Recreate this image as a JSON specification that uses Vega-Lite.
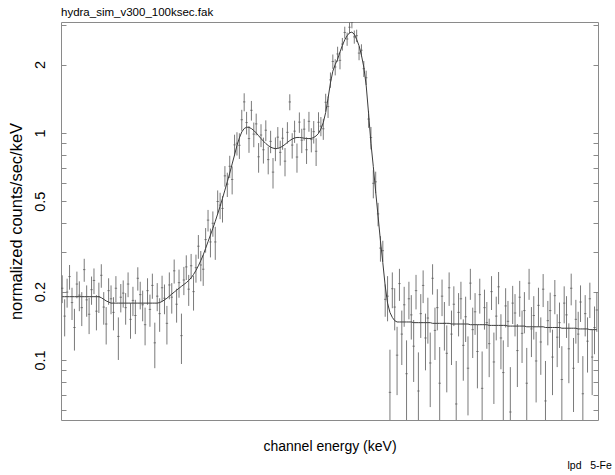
{
  "$schema": "https://vega.github.io/schema/vega-lite/v6.json",
  "width": 537,
  "height": 398,
  "autosize": {"type": "none"},
  "padding": {"left": 61, "top": 22, "right": 17, "bottom": 55},
  "background": "white",
  "title": {
    "text": "hydra_sim_v300_100ksec.fak",
    "anchor": "start",
    "frame": "group",
    "font": "Liberation Sans",
    "fontSize": 11.5,
    "fontWeight": "normal",
    "color": "black",
    "baseline": "alphabetic",
    "offset": -5
  },
  "config": {
    "font": "Liberation Sans",
    "view": {"stroke": "#8a8a8a", "strokeWidth": 1}
  },
  "data": {
    "values": [
      {"e": 6.1907, "c": 0.207, "err": 0.029, "m": 0.19},
      {"e": 6.1921, "c": 0.156, "err": 0.029, "m": 0.19},
      {"e": 6.1935, "c": 0.199, "err": 0.029, "m": 0.19},
      {"e": 6.1949, "c": 0.233, "err": 0.029, "m": 0.19},
      {"e": 6.1963, "c": 0.179, "err": 0.029, "m": 0.19},
      {"e": 6.1977, "c": 0.139, "err": 0.029, "m": 0.19},
      {"e": 6.1991, "c": 0.216, "err": 0.029, "m": 0.19},
      {"e": 6.2005, "c": 0.193, "err": 0.029, "m": 0.19},
      {"e": 6.2019, "c": 0.170, "err": 0.029, "m": 0.19},
      {"e": 6.2033, "c": 0.250, "err": 0.029, "m": 0.19},
      {"e": 6.2047, "c": 0.184, "err": 0.029, "m": 0.19},
      {"e": 6.2061, "c": 0.159, "err": 0.029, "m": 0.19},
      {"e": 6.2075, "c": 0.204, "err": 0.029, "m": 0.19},
      {"e": 6.2089, "c": 0.224, "err": 0.029, "m": 0.19},
      {"e": 6.2103, "c": 0.164, "err": 0.029, "m": 0.19},
      {"e": 6.2117, "c": 0.190, "err": 0.029, "m": 0.19},
      {"e": 6.2131, "c": 0.236, "err": 0.028, "m": 0.188},
      {"e": 6.2145, "c": 0.171, "err": 0.028, "m": 0.185},
      {"e": 6.2159, "c": 0.144, "err": 0.027, "m": 0.182},
      {"e": 6.2173, "c": 0.202, "err": 0.027, "m": 0.18},
      {"e": 6.2187, "c": 0.186, "err": 0.027, "m": 0.178},
      {"e": 6.2201, "c": 0.162, "err": 0.027, "m": 0.178},
      {"e": 6.2215, "c": 0.207, "err": 0.027, "m": 0.178},
      {"e": 6.2229, "c": 0.127, "err": 0.027, "m": 0.178},
      {"e": 6.2243, "c": 0.189, "err": 0.027, "m": 0.178},
      {"e": 6.2257, "c": 0.197, "err": 0.027, "m": 0.178},
      {"e": 6.2271, "c": 0.170, "err": 0.027, "m": 0.178},
      {"e": 6.2285, "c": 0.216, "err": 0.027, "m": 0.178},
      {"e": 6.2299, "c": 0.151, "err": 0.027, "m": 0.178},
      {"e": 6.2313, "c": 0.183, "err": 0.027, "m": 0.178},
      {"e": 6.2327, "c": 0.157, "err": 0.027, "m": 0.178},
      {"e": 6.2341, "c": 0.229, "err": 0.027, "m": 0.178},
      {"e": 6.2355, "c": 0.194, "err": 0.027, "m": 0.178},
      {"e": 6.2369, "c": 0.175, "err": 0.027, "m": 0.178},
      {"e": 6.2383, "c": 0.143, "err": 0.027, "m": 0.178},
      {"e": 6.2397, "c": 0.202, "err": 0.027, "m": 0.178},
      {"e": 6.2411, "c": 0.167, "err": 0.027, "m": 0.178},
      {"e": 6.2425, "c": 0.213, "err": 0.027, "m": 0.178},
      {"e": 6.2439, "c": 0.119, "err": 0.027, "m": 0.178},
      {"e": 6.2453, "c": 0.191, "err": 0.027, "m": 0.178},
      {"e": 6.2467, "c": 0.160, "err": 0.027, "m": 0.179},
      {"e": 6.2481, "c": 0.208, "err": 0.027, "m": 0.181},
      {"e": 6.2495, "c": 0.187, "err": 0.028, "m": 0.184},
      {"e": 6.2509, "c": 0.145, "err": 0.028, "m": 0.187},
      {"e": 6.2523, "c": 0.214, "err": 0.029, "m": 0.191},
      {"e": 6.2537, "c": 0.189, "err": 0.029, "m": 0.195},
      {"e": 6.2551, "c": 0.247, "err": 0.030, "m": 0.199},
      {"e": 6.2565, "c": 0.176, "err": 0.030, "m": 0.203},
      {"e": 6.2579, "c": 0.219, "err": 0.031, "m": 0.207},
      {"e": 6.2593, "c": 0.128, "err": 0.032, "m": 0.211},
      {"e": 6.2607, "c": 0.225, "err": 0.032, "m": 0.215},
      {"e": 6.2621, "c": 0.257, "err": 0.032, "m": 0.219},
      {"e": 6.2635, "c": 0.205, "err": 0.032, "m": 0.224},
      {"e": 6.2649, "c": 0.260, "err": 0.033, "m": 0.23},
      {"e": 6.2663, "c": 0.200, "err": 0.035, "m": 0.238},
      {"e": 6.2677, "c": 0.255, "err": 0.036, "m": 0.248},
      {"e": 6.2691, "c": 0.317, "err": 0.038, "m": 0.26},
      {"e": 6.2705, "c": 0.262, "err": 0.040, "m": 0.274},
      {"e": 6.2719, "c": 0.251, "err": 0.039, "m": 0.29},
      {"e": 6.2733, "c": 0.339, "err": 0.042, "m": 0.31},
      {"e": 6.2747, "c": 0.413, "err": 0.045, "m": 0.332},
      {"e": 6.2761, "c": 0.331, "err": 0.048, "m": 0.355},
      {"e": 6.2775, "c": 0.400, "err": 0.051, "m": 0.38},
      {"e": 6.2789, "c": 0.331, "err": 0.055, "m": 0.408},
      {"e": 6.2803, "c": 0.499, "err": 0.059, "m": 0.44},
      {"e": 6.2817, "c": 0.481, "err": 0.064, "m": 0.475},
      {"e": 6.2831, "c": 0.465, "err": 0.062, "m": 0.515},
      {"e": 6.2845, "c": 0.647, "err": 0.067, "m": 0.56},
      {"e": 6.2859, "c": 0.595, "err": 0.073, "m": 0.61},
      {"e": 6.2873, "c": 0.713, "err": 0.080, "m": 0.665},
      {"e": 6.2887, "c": 0.624, "err": 0.088, "m": 0.73},
      {"e": 6.2901, "c": 0.886, "err": 0.096, "m": 0.8},
      {"e": 6.2915, "c": 0.901, "err": 0.106, "m": 0.88},
      {"e": 6.2929, "c": 0.882, "err": 0.114, "m": 0.95},
      {"e": 6.2943, "c": 1.143, "err": 0.121, "m": 1.01},
      {"e": 6.2957, "c": 1.370, "err": 0.125, "m": 1.045},
      {"e": 6.2971, "c": 1.111, "err": 0.127, "m": 1.06},
      {"e": 6.2985, "c": 0.944, "err": 0.127, "m": 1.058},
      {"e": 6.2999, "c": 1.258, "err": 0.125, "m": 1.045},
      {"e": 6.3013, "c": 0.988, "err": 0.123, "m": 1.025},
      {"e": 6.3027, "c": 1.096, "err": 0.120, "m": 1.0},
      {"e": 6.3041, "c": 0.785, "err": 0.117, "m": 0.972},
      {"e": 6.3055, "c": 0.979, "err": 0.113, "m": 0.945},
      {"e": 6.3069, "c": 0.843, "err": 0.110, "m": 0.92},
      {"e": 6.3083, "c": 1.028, "err": 0.108, "m": 0.898},
      {"e": 6.3097, "c": 0.763, "err": 0.106, "m": 0.88},
      {"e": 6.3111, "c": 0.918, "err": 0.104, "m": 0.866},
      {"e": 6.3125, "c": 0.672, "err": 0.103, "m": 0.857},
      {"e": 6.3139, "c": 0.853, "err": 0.102, "m": 0.853},
      {"e": 6.3153, "c": 0.958, "err": 0.103, "m": 0.855},
      {"e": 6.3167, "c": 0.821, "err": 0.103, "m": 0.862},
      {"e": 6.3181, "c": 0.948, "err": 0.105, "m": 0.874},
      {"e": 6.3195, "c": 0.751, "err": 0.107, "m": 0.89},
      {"e": 6.3209, "c": 1.006, "err": 0.109, "m": 0.908},
      {"e": 6.3223, "c": 1.369, "err": 0.111, "m": 0.925},
      {"e": 6.3237, "c": 0.884, "err": 0.113, "m": 0.94},
      {"e": 6.3251, "c": 1.018, "err": 0.114, "m": 0.95},
      {"e": 6.3265, "c": 0.783, "err": 0.115, "m": 0.955},
      {"e": 6.3279, "c": 1.116, "err": 0.115, "m": 0.955},
      {"e": 6.3293, "c": 0.929, "err": 0.114, "m": 0.952},
      {"e": 6.3307, "c": 1.039, "err": 0.114, "m": 0.948},
      {"e": 6.3321, "c": 0.843, "err": 0.113, "m": 0.945},
      {"e": 6.3335, "c": 1.125, "err": 0.113, "m": 0.944},
      {"e": 6.3349, "c": 0.935, "err": 0.114, "m": 0.946},
      {"e": 6.3363, "c": 1.013, "err": 0.115, "m": 0.955},
      {"e": 6.3377, "c": 0.831, "err": 0.116, "m": 0.97},
      {"e": 6.3391, "c": 1.114, "err": 0.119, "m": 0.995},
      {"e": 6.3405, "c": 1.071, "err": 0.104, "m": 1.04},
      {"e": 6.3419, "c": 1.043, "err": 0.111, "m": 1.11},
      {"e": 6.3433, "c": 1.365, "err": 0.123, "m": 1.23},
      {"e": 6.3447, "c": 1.306, "err": 0.142, "m": 1.42},
      {"e": 6.3461, "c": 1.713, "err": 0.133, "m": 1.66},
      {"e": 6.3475, "c": 2.065, "err": 0.150, "m": 1.87},
      {"e": 6.3489, "c": 1.952, "err": 0.160, "m": 2.0},
      {"e": 6.3503, "c": 2.228, "err": 0.169, "m": 2.11},
      {"e": 6.3517, "c": 2.088, "err": 0.182, "m": 2.27},
      {"e": 6.3531, "c": 2.462, "err": 0.158, "m": 2.43},
      {"e": 6.3545, "c": 2.770, "err": 0.167, "m": 2.57},
      {"e": 6.3559, "c": 2.593, "err": 0.174, "m": 2.68},
      {"e": 6.3573, "c": 2.921, "err": 0.179, "m": 2.76},
      {"e": 6.3587, "c": 3.070, "err": 0.181, "m": 2.78},
      {"e": 6.3601, "c": 2.649, "err": 0.177, "m": 2.72},
      {"e": 6.3615, "c": 2.681, "err": 0.168, "m": 2.58},
      {"e": 6.3629, "c": 2.247, "err": 0.157, "m": 2.42},
      {"e": 6.3643, "c": 2.314, "err": 0.143, "m": 2.2},
      {"e": 6.3657, "c": 1.919, "err": 0.156, "m": 1.95},
      {"e": 6.3671, "c": 1.750, "err": 0.130, "m": 1.62},
      {"e": 6.3685, "c": 1.151, "err": 0.098, "m": 1.22},
      {"e": 6.3699, "c": 0.954, "err": 0.108, "m": 0.9},
      {"e": 6.3713, "c": 0.600, "err": 0.085, "m": 0.71},
      {"e": 6.3727, "c": 0.609, "err": 0.066, "m": 0.55},
      {"e": 6.3741, "c": 0.440, "err": 0.052, "m": 0.43},
      {"e": 6.3755, "c": 0.311, "err": 0.040, "m": 0.335},
      {"e": 6.3769, "c": 0.303, "err": 0.032, "m": 0.268},
      {"e": 6.3783, "c": 0.185, "err": 0.030, "m": 0.212},
      {"e": 6.3797, "c": 0.191, "err": 0.043, "m": 0.178},
      {"e": 6.3811, "c": 0.072, "err": 0.039, "m": 0.162},
      {"e": 6.3825, "c": 0.206, "err": 0.037, "m": 0.154},
      {"e": 6.3839, "c": 0.171, "err": 0.036, "m": 0.149},
      {"e": 6.3853, "c": 0.105, "err": 0.035, "m": 0.147},
      {"e": 6.3867, "c": 0.217, "err": 0.035, "m": 0.147},
      {"e": 6.3881, "c": 0.130, "err": 0.035, "m": 0.147},
      {"e": 6.3895, "c": 0.175, "err": 0.035, "m": 0.147},
      {"e": 6.3909, "c": 0.087, "err": 0.035, "m": 0.147},
      {"e": 6.3923, "c": 0.186, "err": 0.035, "m": 0.147},
      {"e": 6.3937, "c": 0.158, "err": 0.035, "m": 0.147},
      {"e": 6.3951, "c": 0.115, "err": 0.035, "m": 0.146},
      {"e": 6.3965, "c": 0.202, "err": 0.035, "m": 0.146},
      {"e": 6.3979, "c": 0.073, "err": 0.035, "m": 0.146},
      {"e": 6.3993, "c": 0.160, "err": 0.035, "m": 0.146},
      {"e": 6.4007, "c": 0.213, "err": 0.035, "m": 0.146},
      {"e": 6.4021, "c": 0.125, "err": 0.035, "m": 0.146},
      {"e": 6.4035, "c": 0.153, "err": 0.035, "m": 0.146},
      {"e": 6.4049, "c": 0.097, "err": 0.035, "m": 0.146},
      {"e": 6.4063, "c": 0.229, "err": 0.035, "m": 0.145},
      {"e": 6.4077, "c": 0.135, "err": 0.035, "m": 0.145},
      {"e": 6.4091, "c": 0.170, "err": 0.035, "m": 0.145},
      {"e": 6.4105, "c": 0.079, "err": 0.035, "m": 0.145},
      {"e": 6.4119, "c": 0.191, "err": 0.035, "m": 0.145},
      {"e": 6.4133, "c": 0.145, "err": 0.035, "m": 0.145},
      {"e": 6.4147, "c": 0.107, "err": 0.035, "m": 0.145},
      {"e": 6.4161, "c": 0.208, "err": 0.035, "m": 0.145},
      {"e": 6.4175, "c": 0.130, "err": 0.035, "m": 0.144},
      {"e": 6.4189, "c": 0.176, "err": 0.035, "m": 0.144},
      {"e": 6.4203, "c": 0.064, "err": 0.035, "m": 0.144},
      {"e": 6.4217, "c": 0.162, "err": 0.035, "m": 0.144},
      {"e": 6.4231, "c": 0.186, "err": 0.035, "m": 0.144},
      {"e": 6.4245, "c": 0.116, "err": 0.035, "m": 0.144},
      {"e": 6.4259, "c": 0.155, "err": 0.035, "m": 0.144},
      {"e": 6.4273, "c": 0.092, "err": 0.035, "m": 0.144},
      {"e": 6.4287, "c": 0.218, "err": 0.034, "m": 0.143},
      {"e": 6.4301, "c": 0.136, "err": 0.034, "m": 0.143},
      {"e": 6.4315, "c": 0.163, "err": 0.034, "m": 0.143},
      {"e": 6.4329, "c": 0.109, "err": 0.034, "m": 0.143},
      {"e": 6.4343, "c": 0.194, "err": 0.034, "m": 0.143},
      {"e": 6.4357, "c": 0.075, "err": 0.034, "m": 0.143},
      {"e": 6.4371, "c": 0.170, "err": 0.034, "m": 0.143},
      {"e": 6.4385, "c": 0.146, "err": 0.034, "m": 0.143},
      {"e": 6.4399, "c": 0.118, "err": 0.034, "m": 0.142},
      {"e": 6.4413, "c": 0.200, "err": 0.034, "m": 0.142},
      {"e": 6.4427, "c": 0.098, "err": 0.034, "m": 0.142},
      {"e": 6.4441, "c": 0.156, "err": 0.034, "m": 0.142},
      {"e": 6.4455, "c": 0.210, "err": 0.034, "m": 0.142},
      {"e": 6.4469, "c": 0.125, "err": 0.034, "m": 0.142},
      {"e": 6.4483, "c": 0.088, "err": 0.034, "m": 0.142},
      {"e": 6.4497, "c": 0.173, "err": 0.034, "m": 0.142},
      {"e": 6.4511, "c": 0.148, "err": 0.034, "m": 0.141},
      {"e": 6.4525, "c": 0.059, "err": 0.034, "m": 0.141},
      {"e": 6.4539, "c": 0.178, "err": 0.034, "m": 0.141},
      {"e": 6.4553, "c": 0.161, "err": 0.034, "m": 0.141},
      {"e": 6.4567, "c": 0.110, "err": 0.034, "m": 0.141},
      {"e": 6.4581, "c": 0.189, "err": 0.034, "m": 0.141},
      {"e": 6.4595, "c": 0.131, "err": 0.034, "m": 0.141},
      {"e": 6.4609, "c": 0.165, "err": 0.034, "m": 0.141},
      {"e": 6.4623, "c": 0.079, "err": 0.034, "m": 0.14},
      {"e": 6.4637, "c": 0.218, "err": 0.034, "m": 0.14},
      {"e": 6.4651, "c": 0.137, "err": 0.034, "m": 0.14},
      {"e": 6.4665, "c": 0.157, "err": 0.034, "m": 0.14},
      {"e": 6.4679, "c": 0.099, "err": 0.034, "m": 0.14},
      {"e": 6.4693, "c": 0.174, "err": 0.034, "m": 0.14},
      {"e": 6.4707, "c": 0.120, "err": 0.034, "m": 0.14},
      {"e": 6.4721, "c": 0.205, "err": 0.034, "m": 0.14},
      {"e": 6.4735, "c": 0.066, "err": 0.033, "m": 0.139},
      {"e": 6.4749, "c": 0.149, "err": 0.033, "m": 0.139},
      {"e": 6.4763, "c": 0.165, "err": 0.033, "m": 0.139},
      {"e": 6.4777, "c": 0.103, "err": 0.033, "m": 0.139},
      {"e": 6.4791, "c": 0.192, "err": 0.033, "m": 0.139},
      {"e": 6.4805, "c": 0.126, "err": 0.033, "m": 0.139},
      {"e": 6.4819, "c": 0.146, "err": 0.033, "m": 0.139},
      {"e": 6.4833, "c": 0.082, "err": 0.033, "m": 0.138},
      {"e": 6.4847, "c": 0.178, "err": 0.033, "m": 0.138},
      {"e": 6.4861, "c": 0.158, "err": 0.033, "m": 0.138},
      {"e": 6.4875, "c": 0.112, "err": 0.033, "m": 0.138},
      {"e": 6.4889, "c": 0.207, "err": 0.033, "m": 0.138},
      {"e": 6.4903, "c": 0.092, "err": 0.033, "m": 0.138},
      {"e": 6.4917, "c": 0.151, "err": 0.033, "m": 0.138},
      {"e": 6.4931, "c": 0.130, "err": 0.033, "m": 0.137},
      {"e": 6.4945, "c": 0.180, "err": 0.033, "m": 0.137},
      {"e": 6.4959, "c": 0.071, "err": 0.033, "m": 0.137},
      {"e": 6.4973, "c": 0.160, "err": 0.033, "m": 0.137},
      {"e": 6.4987, "c": 0.121, "err": 0.033, "m": 0.137},
      {"e": 6.5001, "c": 0.186, "err": 0.033, "m": 0.136},
      {"e": 6.5015, "c": 0.103, "err": 0.033, "m": 0.136},
      {"e": 6.5029, "c": 0.139, "err": 0.033, "m": 0.136},
      {"e": 6.5043, "c": 0.166, "err": 0.033, "m": 0.136}
    ]
  },
  "resolve": {"axis": {"y": "independent"}},
  "layer": [
    {
      "mark": {"type": "errorbar", "clip": true, "color": "#7a7a7a", "thickness": 1},
      "encoding": {
        "x": {
          "field": "e",
          "type": "quantitative",
          "scale": {"type": "log", "domain": [6.19, 6.505], "nice": false},
          "axis": {
            "title": "channel energy (keV)",
            "ticks": false,
            "labels": false,
            "domain": false,
            "grid": false,
            "titleFont": "Liberation Sans",
            "titleFontSize": 14,
            "titleFontWeight": "normal",
            "titleColor": "black",
            "titlePadding": 19
          }
        },
        "y": {
          "field": "c",
          "type": "quantitative",
          "scale": {"type": "log", "domain": [0.0544, 3.08], "nice": false},
          "axis": {
            "orient": "left",
            "title": "normalized counts/sec/keV",
            "values": [0.06, 0.07, 0.08, 0.09, 0.1, 0.2, 0.3, 0.4, 0.5, 0.6, 0.7, 0.8, 0.9, 1, 2, 3],
            "format": "~g",
            "labelExpr": "indexof([0.1, 0.2, 0.5, 1, 2], datum.value) >= 0 ? datum.label : ''",
            "domain": false,
            "grid": false,
            "tickColor": "#8a8a8a",
            "tickSize": -5,
            "labelAngle": 270,
            "labelAlign": "center",
            "labelBaseline": "bottom",
            "labelPadding": 19,
            "labelFont": "Liberation Sans",
            "labelFontSize": 14.5,
            "labelColor": "black",
            "titleFont": "Liberation Sans",
            "titleFontSize": 16.5,
            "titleFontWeight": "normal",
            "titleColor": "black",
            "titlePadding": 8,
            "encode": {
              "ticks": {
                "update": {
                  "x2": {"signal": "indexof([0.1, 0.2, 0.5, 1, 2], datum.value) >= 0 ? 5 : 3"}
                }
              }
            }
          }
        },
        "yError": {"field": "err"}
      }
    },
    {
      "mark": {"type": "tick", "orient": "horizontal", "clip": true, "color": "#555555", "size": 2.4, "thickness": 1},
      "encoding": {
        "x": {"field": "e", "type": "quantitative"},
        "y": {"field": "c", "type": "quantitative", "axis": null}
      }
    },
    {
      "mark": {"type": "line", "clip": true, "color": "#3c3c3c", "strokeWidth": 1},
      "encoding": {
        "x": {"field": "e", "type": "quantitative"},
        "y": {
          "field": "m",
          "type": "quantitative",
          "axis": {
            "orient": "right",
            "title": "lpd\u00a0\u00a0 5-Fe",
            "values": [0.06, 0.07, 0.08, 0.09, 0.1, 0.2, 0.3, 0.4, 0.5, 0.6, 0.7, 0.8, 0.9, 1, 2, 3],
            "labels": false,
            "domain": false,
            "grid": false,
            "tickColor": "#8a8a8a",
            "tickSize": -5,
            "titleAngle": 0,
            "titleAlign": "left",
            "titleBaseline": "alphabetic",
            "titleAnchor": null,
            "titleX": -31,
            "titleY": 446,
            "titleFont": "Liberation Sans",
            "titleFontSize": 10.5,
            "titleFontWeight": "normal",
            "titleColor": "black",
            "encode": {
              "ticks": {
                "update": {
                  "x2": {"signal": "indexof([0.1, 0.2, 0.5, 1, 2], datum.value) >= 0 ? -5 : -3"}
                }
              }
            }
          }
        }
      }
    }
  ]
}
